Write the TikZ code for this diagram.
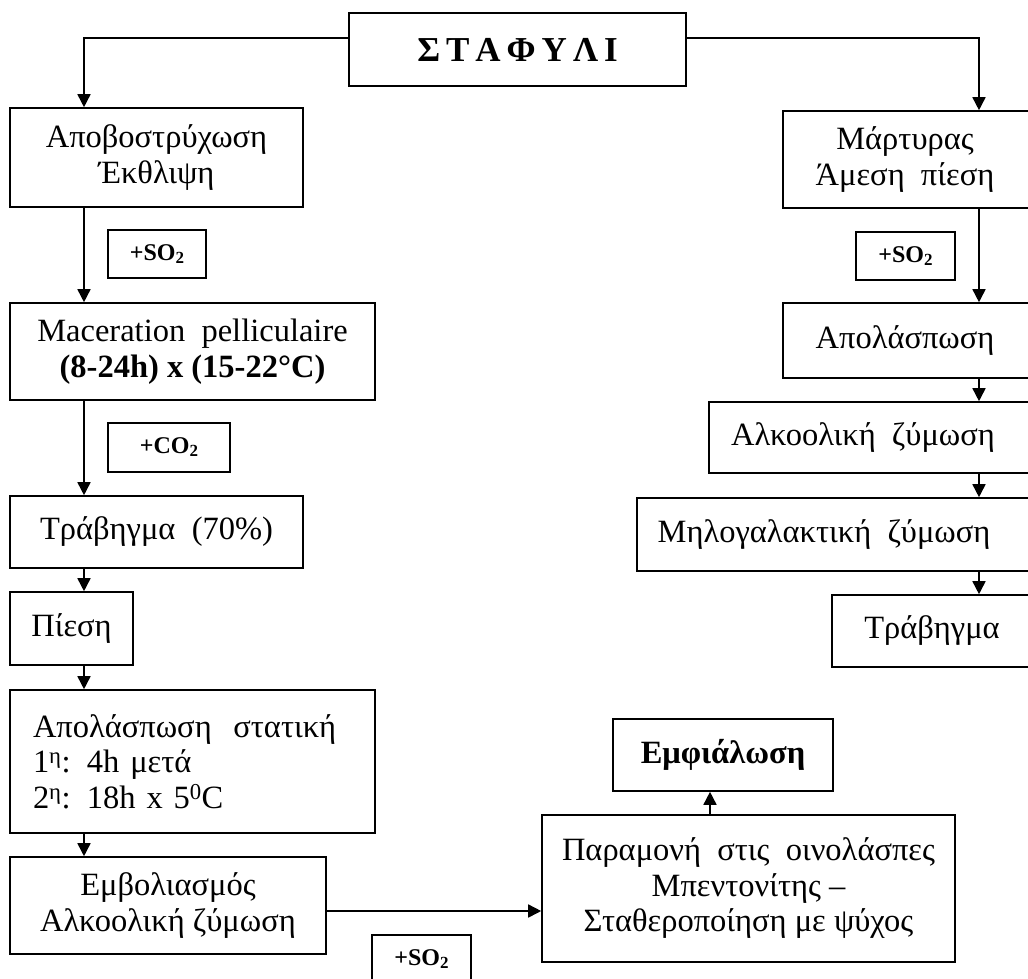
\documentclass[tikz,border=0pt]{standalone}
\usepackage{fontspec}
\setmainfont{Liberation Serif}
\usetikzlibrary{arrows.meta}
\newcommand{\subtwo}{\raisebox{-0.28ex}{\fontsize{17}{17}\selectfont 2}}
\tikzset{
  box/.style={draw, line width=1.6pt, rectangle, inner sep=0pt, align=center, font=\fontsize{32.5}{35.5}\selectfont},
  plain/.style={draw, line width=1.6pt, rectangle, inner sep=0pt},
  addbox/.style={draw, line width=1.4pt, rectangle, inner sep=0pt, font=\bfseries\fontsize{24}{26}\selectfont},
  txt/.style={inner sep=0pt, align=center, font=\fontsize{32.5}{35.5}\selectfont},
  arr/.style={line width=1.6pt, -{Triangle[length=13pt,width=13pt]}}
}
\begin{document}
\begin{tikzpicture}[x=1pt,y=-1pt]
\useasboundingbox (0,0) rectangle (1028,978);
\clip (0,0) rectangle (1028,978);
\fill[white] (0,0) rectangle (1028,978);

\coordinate (lx) at (84,0);
\coordinate (rx) at (979,0);
\coordinate (hy) at (0,38);
\coordinate (ey) at (0,911);
\coordinate (ex) at (710,0);

% title
\node[box, minimum width=337pt, minimum height=73pt] (top) at (517.5,49.5)
  {\bfseries\fontsize{35}{37}\selectfont Σ\hspace{6pt}Τ\hspace{6pt}Α\hspace{6pt}Φ\hspace{6pt}Υ\hspace{6pt}Λ\hspace{6pt}Ι};

% left column
\node[box, minimum width=293pt, minimum height=99pt] (A1) at (156.5,157.5) {Αποβοστρύχωση\\Έκθλιψη};
\node[addbox, minimum width=98pt, minimum height=48pt] (so2a) at (157,254) {+SO\subtwo};
\node[box, minimum width=365pt, minimum height=97pt] (mac) at (192.5,351.5) {Maceration\ \ pelliculaire\\\textbf{(8-24h) x (15-22°C)}};
\node[addbox, minimum width=122pt, minimum height=49pt] (co2) at (169,447.5) {+CO\subtwo};
\node[box, minimum width=293pt, minimum height=72pt] (trab) at (156.5,532) {Τράβηγμα\ \ (70\%)};
\node[box, minimum width=123pt, minimum height=73pt] (pies) at (71.5,628.5) {Πίεση};
\node[box, minimum width=365pt, minimum height=143pt, text width=319pt, inner xsep=23pt, align=left] (stat) at (192.5,761.5)
  {Απολάσπωση\ \ στατική\\1\textsuperscript{η}: 4h μετά\\2\textsuperscript{η}: 18h x 5\textsuperscript{0}C};
\node[box, minimum width=316pt, minimum height=97pt] (emb) at (168,905.5) {Εμβολιασμός\\Αλκοολική ζύμωση};
\node[addbox, minimum width=99pt, minimum height=48pt] (so2c) at (421.5,959) {+SO\subtwo};

% bottom right
\node[box, minimum width=413pt, minimum height=147pt] (param) at (748.5,888.5)
  {Παραμονή\ \ στις\ \ οινολάσπες\\Μπεντονίτης –\\Σταθεροποίηση με ψύχος};
\node[box, minimum width=220pt, minimum height=72pt] (emf) at (723,755) {\textbf{Εμφιάλωση}};

% right column
\node[plain, minimum width=277pt, minimum height=97pt] (mart) at (921.5,159.5) {};
\node[txt] (martT) at (905,159.5) {Μάρτυρας\\Άμεση\ \ πίεση};
\node[addbox, minimum width=99pt, minimum height=48pt] (so2b) at (905.5,256) {+SO\subtwo};
\node[plain, minimum width=277pt, minimum height=75pt] (apol) at (921.5,340.5) {};
\node[txt] (apolT) at (905,340.5) {Απολάσπωση};
\node[plain, minimum width=351pt, minimum height=71pt] (alk) at (884.5,437.5) {};
\node[txt] (alkT) at (863,437.5) {Αλκοολική\ \ ζύμωση};
\node[plain, minimum width=423pt, minimum height=73pt] (mhl) at (848.5,534.5) {};
\node[txt] (mhlT) at (824,534.5) {Μηλογαλακτική\ \ ζύμωση};
\node[plain, minimum width=228pt, minimum height=72pt] (trab2) at (946,631) {};
\node[txt] (trab2T) at (932,631) {Τράβηγμα};

% connectors
\draw[arr] (top.west |- hy) -| (A1.north -| lx);
\draw[arr] (top.east |- hy) -| (mart.north -| rx);
\draw[arr] (A1.south -| lx) -- (mac.north -| lx);
\draw[arr] (mac.south -| lx) -- (trab.north -| lx);
\draw[arr] (trab.south -| lx) -- (pies.north -| lx);
\draw[arr] (pies.south -| lx) -- (stat.north -| lx);
\draw[arr] (stat.south -| lx) -- (emb.north -| lx);
\draw[arr] (emb.east |- ey) -- (param.west |- ey);
\draw[arr] (param.north -| ex) -- (emf.south -| ex);
\draw[arr] (mart.south -| rx) -- (apol.north -| rx);
\draw[arr] (apol.south -| rx) -- (alk.north -| rx);
\draw[arr] (alk.south -| rx) -- (mhl.north -| rx);
\draw[arr] (mhl.south -| rx) -- (trab2.north -| rx);
\end{tikzpicture}
\end{document}
